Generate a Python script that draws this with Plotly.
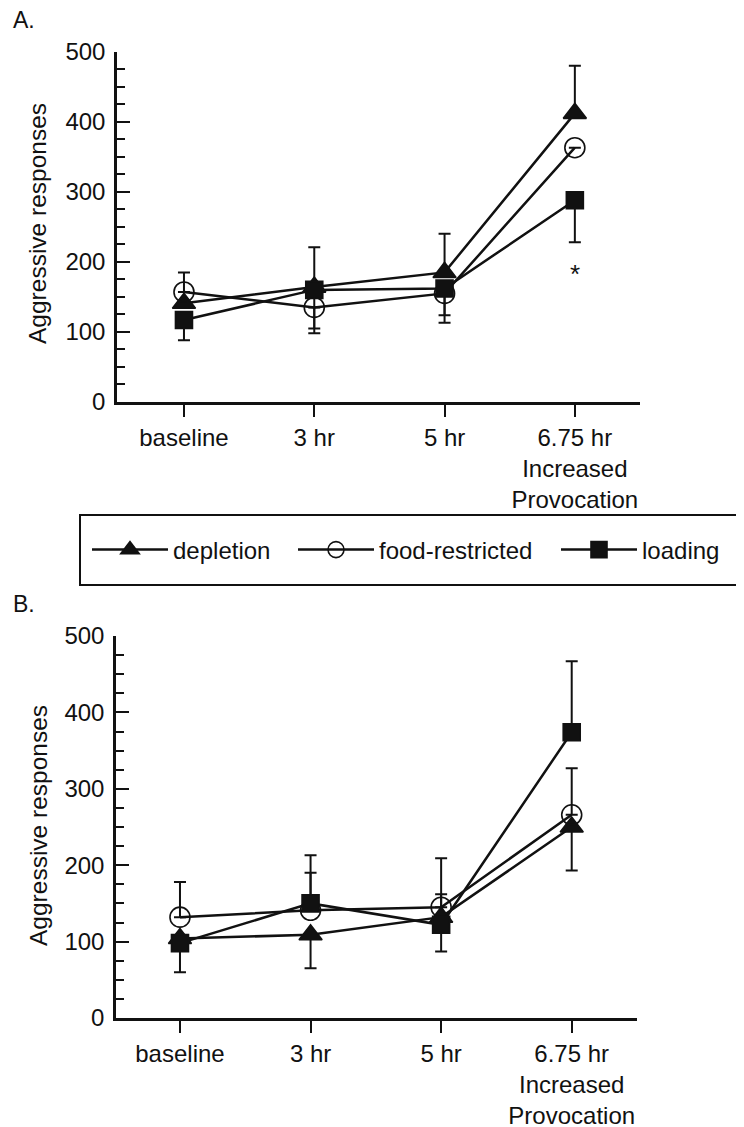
import plotly.graph_objects as go

# ---------------- data ----------------
categories = ["baseline", "3 hr", "5 hr", "6.75 hr<br>Increased<br>Provocation"]
x_pos = [0, 1, 2, 3]
y_ticks = [0, 100, 200, 300, 400, 500]

# Panel A
dep_A = [141, 164, 185, 412]
food_A = [157, 135, 155, 363]
load_A = [117, 160, 162, 288]
dep_A_up = [None, None, 55, 68]
dep_A_dn = [None, None, None, None]
food_A_up = [28, None, None, None]
food_A_dn = [None, 37, 31, None]
load_A_up = [None, 61, None, None]
load_A_dn = [29, 55, 49, 60]

# Panel B
dep_B = [104, 109, 132, 250]
food_B = [132, 141, 145, 266]
load_B = [98, 150, 122, 374]
dep_B_up = [None, None, 30, None]
dep_B_dn = [None, 44, None, 57]
food_B_up = [46, 49, 64, 61]
food_B_dn = [None, None, None, None]
load_B_up = [None, 63, None, 93]
load_B_dn = [38, None, 35, None]

series_names = ["depletion", "food-restricted", "loading"]
symbols = ["triangle-up", "circle-open", "square"]
sizes = [20, 20, 17]

FONT = "Liberation Sans, Arial, Helvetica, sans-serif"
BLACK = "#111111"
W, H = 744, 1127
OFF = 8  # page body margin in the browser


def px(x):
    return (x - OFF) / W


def py(y):
    return 1 - (y - OFF) / H


fig = go.Figure()


def err(up, dn):
    up = [float("nan") if v is None else v for v in up]
    dn = [float("nan") if v is None else v for v in dn]
    return dict(type="data", symmetric=False, array=up, arrayminus=dn,
                color=BLACK, thickness=2, width=6)


panel_A = [(dep_A, dep_A_up, dep_A_dn), (food_A, food_A_up, food_A_dn), (load_A, load_A_up, load_A_dn)]
panel_B = [(dep_B, dep_B_up, dep_B_dn), (food_B, food_B_up, food_B_dn), (load_B, load_B_up, load_B_dn)]
legends = ["legend", "legend2", "legend3"]

for i, (vals, up, dn) in enumerate(panel_A):
    fig.add_trace(go.Scatter(
        x=x_pos, y=vals, mode="lines+markers", name=series_names[i],
        line=dict(color=BLACK, width=2.5),
        marker=dict(symbol=symbols[i], size=sizes[i], color=BLACK,
                    line=dict(color=BLACK, width=1.6)),
        error_y=err(up, dn), xaxis="x", yaxis="y",
        legend=legends[i], showlegend=True, cliponaxis=False))

for i, (vals, up, dn) in enumerate(panel_B):
    fig.add_trace(go.Scatter(
        x=x_pos, y=vals, mode="lines+markers", name=series_names[i],
        line=dict(color=BLACK, width=2.5),
        marker=dict(symbol=symbols[i], size=sizes[i], color=BLACK,
                    line=dict(color=BLACK, width=1.6)),
        error_y=err(up, dn), xaxis="x2", yaxis="y2",
        showlegend=False, cliponaxis=False))


def xaxis_cfg(x0, x1, rng, anchor):
    return dict(domain=[px(x0), px(x1)], range=rng, anchor=anchor,
                tickmode="array", tickvals=x_pos, ticktext=categories,
                ticks="outside", ticklen=12, tickwidth=2, tickcolor=BLACK,
                showline=True, linewidth=2.5, linecolor=BLACK,
                showgrid=False, zeroline=False, fixedrange=True, automargin=False,
                tickfont=dict(family=FONT, size=24, color=BLACK))


def yaxis_cfg(ybot, ytop, anchor):
    return dict(domain=[py(ybot), py(ytop)], range=[0, 500], anchor=anchor,
                tickmode="array", tickvals=y_ticks,
                ticks="inside", ticklen=13, tickwidth=2, tickcolor=BLACK,
                minor=dict(ticks="inside", dtick=25, tick0=0, ticklen=8,
                           tickwidth=2, tickcolor=BLACK, showgrid=False),
                showline=True, linewidth=2.5, linecolor=BLACK,
                showgrid=False, zeroline=False, fixedrange=True, automargin=False,
                ticklabelstandoff=4,
                tickfont=dict(family=FONT, size=24, color=BLACK))


leg_common = dict(orientation="h", yanchor="middle", xanchor="left",
                  bgcolor="rgba(0,0,0,0)", borderwidth=0, itemwidth=76,
                  font=dict(family=FONT, size=24, color=BLACK))

fig.update_layout(
    width=W, height=H,
    margin=dict(l=0, r=0, t=0, b=0, autoexpand=False),
    paper_bgcolor="white", plot_bgcolor="white",
    font=dict(family=FONT, color=BLACK),
    xaxis=xaxis_cfg(117, 640, [-0.514, 3.50], "y"),
    yaxis=yaxis_cfg(402, 51.7, "x"),
    xaxis2=xaxis_cfg(116, 637, [-0.49, 3.50], "y2"),
    yaxis2=yaxis_cfg(1018, 636, "x2"),
    legend=dict(x=px(87), y=py(550), **leg_common),
    legend2=dict(x=px(293), y=py(550), **leg_common),
    legend3=dict(x=px(556), y=py(550), **leg_common),
    shapes=[dict(type="rect", xref="paper", yref="paper",
                 x0=px(80), x1=1.03, y0=py(585), y1=py(515),
                 line=dict(color=BLACK, width=2), fillcolor="rgba(0,0,0,0)")],
    annotations=[
        dict(text="A.", xref="paper", yref="paper", x=px(11), y=py(20),
             xanchor="left", yanchor="middle", showarrow=False,
             font=dict(family=FONT, size=23, color=BLACK)),
        dict(text="B.", xref="paper", yref="paper", x=px(11), y=py(604),
             xanchor="left", yanchor="middle", showarrow=False,
             font=dict(family=FONT, size=23, color=BLACK)),
        dict(text="Aggressive responses", xref="paper", yref="paper",
             x=px(38), y=py(224), textangle=-90, xanchor="center", yanchor="middle",
             showarrow=False, font=dict(family=FONT, size=24.5, color=BLACK)),
        dict(text="Aggressive responses", xref="paper", yref="paper",
             x=px(38), y=py(826), textangle=-90, xanchor="center", yanchor="middle",
             showarrow=False, font=dict(family=FONT, size=24.5, color=BLACK)),
        dict(text="*", xref="x", yref="y", x=3, y=183, showarrow=False,
             font=dict(family=FONT, size=26, color=BLACK)),
    ],
)

fig.write_html("out.html")
